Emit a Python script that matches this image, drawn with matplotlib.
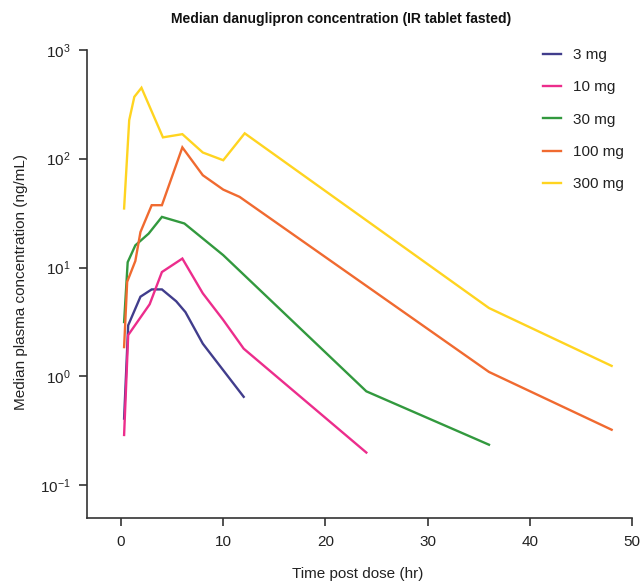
import matplotlib
matplotlib.use("Agg")
import matplotlib.pyplot as plt
from matplotlib.ticker import NullLocator, FixedLocator

plt.rcParams['font.family'] = ['Liberation Sans', 'DejaVu Sans']

labels = ["3 mg", "10 mg", "30 mg", "100 mg", "300 mg"]
colors = ["#413D8C", "#EC2D8C", "#32993E", "#F06A30", "#FFD420"]

t_3 = [0.3, 0.7, 1.9, 3.0, 4.0, 5.4, 6.3, 8.0, 10.0, 12.0]
c_3 = [0.41, 2.95, 5.4, 6.3, 6.3, 4.9, 3.9, 2.0, 1.14, 0.65]

t_10 = [0.3, 0.7, 2.8, 4.0, 6.0, 8.0, 10.0, 12.0, 24.0]
c_10 = [0.29, 2.4, 4.6, 9.1, 12.1, 5.8, 3.3, 1.8, 0.20]

t_30 = [0.3, 0.65, 1.4, 2.7, 4.0, 6.2, 10.0, 24.0, 36.0]
c_30 = [3.16, 11.2, 16.0, 20.5, 29.2, 25.4, 13.0, 0.73, 0.236]

t_100 = [0.3, 0.6, 1.4, 1.9, 3.0, 4.0, 6.0, 8.0, 10.0, 11.6, 36.0, 48.0]
c_100 = [1.86, 7.4, 11.5, 21.2, 37.4, 37.4, 127, 70.5, 52, 44.6, 1.10, 0.324]

t_300 = [0.3, 0.8, 1.3, 2.0, 4.1, 6.0, 8.0, 10.0, 12.1, 36.0, 48.0]
c_300 = [34.9, 226, 370, 448, 157, 168, 114, 96.8, 171, 4.25, 1.25]

series_t = [t_3, t_10, t_30, t_100, t_300]
series_c = [c_3, c_10, c_30, c_100, c_300]

fig = plt.figure(figsize=(6.43, 5.82), dpi=100)
ax = fig.add_axes([0.1353, 0.110, 0.8477, 0.8044])

for t, c, lab, col in zip(series_t, series_c, labels, colors):
    ax.plot(t, c, color=col, lw=1.7, label=lab, solid_joinstyle='miter')

ax.set_yscale('log')
ax.set_xlim(-3.33, 50)
ax.set_ylim(10 ** -1.30, 1e3)
ax.yaxis.set_major_locator(FixedLocator([0.1, 1, 10, 100, 1000]))
ax.yaxis.set_minor_locator(NullLocator())
ax.set_xticks([0, 10, 20, 30, 40, 50])

for s in ['top', 'right']:
    ax.spines[s].set_visible(False)
for s in ['left', 'bottom']:
    ax.spines[s].set_color('#333333')
    ax.spines[s].set_linewidth(1.2)
ax.tick_params(axis='both', direction='out', length=6, width=1.2, color='#333333',
               labelsize=11, labelcolor='#222222', pad=6)

fig.text(358 / 643, 1 - 574 / 582, "Time post dose (hr)", ha='center', va='center',
         fontsize=11, color='#222222')
fig.text(21 / 643, 1 - 282 / 582, "Median plasma concentration (ng/mL)", ha='center',
         va='center', rotation=90, fontsize=11, color='#222222')

fig.text(0.530, 0.968, "Median danuglipron concentration (IR tablet fasted)",
         ha='center', va='center', fontsize=10, fontweight='bold', color='#111111')

leg = ax.legend(loc='upper right', bbox_to_anchor=(1.011, 1.033), frameon=False, fontsize=11,
                handlelength=1.2, handletextpad=0.8, labelspacing=1.2)
for txt in leg.get_texts():
    txt.set_color('#222222')

fig.savefig("out.png", dpi=100)
